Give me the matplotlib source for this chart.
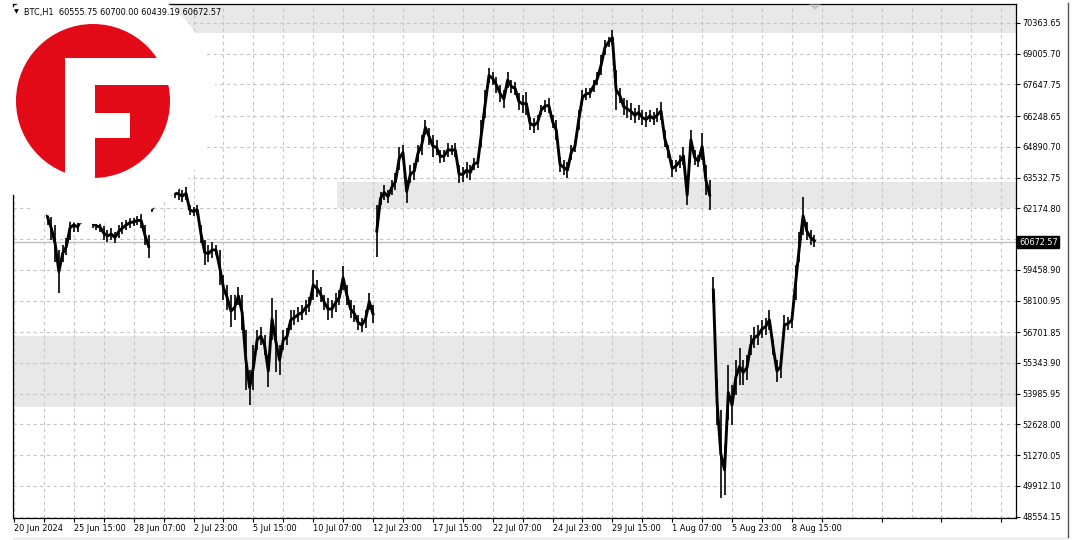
import numpy as np
import matplotlib.pyplot as plt
from matplotlib.patches import Circle, Rectangle, Polygon
from matplotlib.transforms import blended_transform_factory

# --- BTC H1 feed in groups of 4 hourly bars ---
# (the broker feed skips weekend hours, so x is a plain bar count)
BARS_PER_POINT = 4
LABEL_STEP = 64   # bars between time labels
GRID_STEP = 32    # bars between vertical grid lines

high = [64400, 64490, 64310, 64220, 64400, 64310, 64090, 63510, 63210, 62100,
        61790, 61440, 60330, 60550, 60860, 61880, 61750, 61570, 61880, 62010,
        61920, 61750, 61570, 61570, 61390, 61220, 61300, 61130, 61440, 61570,
        61660, 61790, 61750, 61840, 61970, 61440, 61000, 62320, 62760, 62980,
        63210, 63290, 63210, 63070, 63070, 62980, 63120, 62320, 62230, 62320,
        61440, 60770, 60550, 60690, 60550, 60330, 59230, 58790, 58340, 58340,
        58700, 58340, 56800, 55030, 56130, 56800, 56930, 56580, 55690, 58210,
        57680, 56130, 56800, 56890, 57680, 57680, 57810, 57900, 58120, 58260,
        59450, 59010, 58700, 58340, 58210, 58120, 58430, 58570, 59630, 58790,
        58120, 57900, 57460, 57330, 57680, 58430, 57900, 62320, 62900, 63210,
        62980, 63430, 63730, 64880, 64970, 63430, 64090, 64180, 64970, 65410,
        66080, 65720, 65410, 65190, 64750, 64750, 65060, 64970, 65060, 64090,
        64000, 64220, 64090, 64400, 64440, 66080, 67400, 68380, 68200, 67980,
        67620, 67400, 68200, 67850, 67760, 67270, 67180, 67320, 66210, 66170,
        66300, 66740, 66960, 67050, 66300, 66080, 64440, 64310, 64220, 64970,
        65190, 66520, 67400, 67490, 67490, 67850, 68200, 68950, 69610, 69750,
        70050, 68290, 67490, 67050, 66960, 66830, 66610, 66740, 66520, 66430,
        66520, 66430, 66610, 66870, 65640, 64970, 64310, 64310, 64530, 64880,
        63210, 65640, 64750, 64530, 65500, 64090, 63430, 59140, 54590, 53260,
        51720, 55250, 54370, 55470, 56000, 55470, 55690, 56580, 56930, 57020,
        57240, 57330, 57680, 56360, 55470, 55690, 57460, 57370, 57590, 59670,
        61130, 62680, 61570, 61220, 61000]

low = [64040, 64090, 63870, 63780, 63960, 63870, 63600, 62980, 62630, 61440,
       60770, 59800, 58430, 59800, 60110, 60770, 61130, 61130, 61480, 61570,
       61480, 61300, 61220, 61130, 60770, 60690, 60770, 60640, 60860, 61040,
       61220, 61300, 61390, 61440, 61300, 60550, 59980, 62010, 62320, 62540,
       62680, 62760, 62720, 62630, 62540, 62450, 62540, 61880, 61840, 61880,
       60640, 59670, 59800, 59980, 60110, 58790, 58120, 57680, 56930, 57240,
       57900, 56800, 54150, 53480, 54150, 55910, 56130, 55690, 54280, 56360,
       54940, 54810, 55910, 56130, 56800, 57020, 57150, 57240, 57460, 57590,
       58120, 58260, 58040, 57680, 57240, 57330, 57590, 57900, 58570, 57900,
       57330, 57150, 56800, 56710, 56890, 57680, 57110, 60020, 62320, 62540,
       62410, 62760, 62980, 63870, 64310, 62410, 63290, 63430, 64220, 64530,
       65410, 64970, 64440, 64530, 64180, 64220, 64440, 64530, 64440, 63290,
       63340, 63510, 63430, 63870, 63960, 64880, 66170, 67710, 67620, 67270,
       66870, 66610, 67490, 67270, 67180, 66520, 66390, 66300, 65640, 65500,
       65640, 66300, 66430, 66390, 65720, 65190, 63780, 63650, 63510, 64310,
       64660, 65640, 66740, 66960, 67050, 67320, 67620, 68070, 68950, 69300,
       69390, 66520, 66830, 66300, 66170, 66080, 65950, 66080, 65860, 65770,
       65990, 65860, 65990, 66080, 64880, 64400, 63560, 63780, 63960, 64090,
       62320, 64750, 64090, 64000, 64310, 62760, 62100, 57990, 52600, 49370,
       49510, 52820, 52600, 53930, 54370, 54370, 54590, 55690, 56000, 56130,
       56440, 56580, 56800, 55690, 54500, 54680, 56580, 56800, 56890, 58120,
       59800, 61000, 60770, 60550, 60470]

week_breaks = [36, 96, 186]   # last point before a visible weekend gap

last_bar = [60555.75, 60700.00, 60439.19, 60672.57]   # O H L C
symbol = 'BTC,H1'

price_ticks = [70363.65, 69005.70, 67647.75, 66248.65, 64890.70, 63532.75,
               62174.80, 60816.85, 59458.90, 58100.95, 56701.85, 55343.90,
               53985.95, 52628.00, 51270.05, 49912.10, 48554.15]
hidden_tick = 60816.85   # sits under the price tag

time_labels = ['20 Jun 2024', '25 Jun 15:00', '28 Jun 07:00', '2 Jul 23:00',
               '5 Jul 15:00', '10 Jul 07:00', '12 Jul 23:00', '17 Jul 15:00',
               '22 Jul 07:00', '24 Jul 23:00', '29 Jul 15:00', '1 Aug 07:00',
               '5 Aug 23:00', '8 Aug 15:00']

# supply / demand zones: (low price, high price, first bar)
zones = [(69920, 72000, 0), (62175, 63330, 345), (53410, 56530, 0)]

X_MIN, X_MAX = -1.07, 1071.7
Y_MIN, Y_MAX = 48490, 71203

GRID_C = '#c4c4c4'
ZONE_C = '#e8e8e8'
LOGO_RED = '#e20a17'

plt.rcParams['font.family'] = 'DejaVu Sans'
plt.rcParams['font.size'] = 5.9

fig = plt.figure(figsize=(10.8, 5.4), dpi=100)
ax = fig.add_axes([13 / 1080, 22 / 540, 1003 / 1080, 514 / 540])
ax.set_xlim(X_MIN, X_MAX)
ax.set_ylim(Y_MIN, Y_MAX)

# zones
for lo_p, hi_p, start in zones:
    ax.add_patch(Rectangle((start, lo_p), X_MAX - start, hi_p - lo_p,
                           facecolor=ZONE_C, edgecolor='none', zorder=0))

# grid
for b in np.arange(0, X_MAX, GRID_STEP):
    ax.axvline(b, color=GRID_C, lw=0.8, dashes=(3, 3), zorder=1)
for p in price_ticks:
    ax.axhline(p, color=GRID_C, lw=0.8, dashes=(3, 3), zorder=1)

# current price line
ax.axhline(last_bar[3], color='#bdbdbd', lw=1.0, zorder=1)

# price bars: hi-lo strokes plus a core line through their middles
x = np.arange(len(high)) * BARS_PER_POINT
hi = np.array(high, dtype=float)
lo = np.array(low, dtype=float)
mid = (hi + lo) / 2
starts = [0] + [b + 1 for b in week_breaks]
ends = [b + 1 for b in week_breaks] + [len(high)]
for s, e in zip(starts, ends):
    ax.plot(x[s:e], mid[s:e], color='black', lw=2.1, zorder=3)
ax.vlines(x, lo, hi, color='black', lw=1.2, zorder=3)

# axes / ticks
for side in ['left', 'right', 'top', 'bottom']:
    ax.spines[side].set_color('black')
    ax.spines[side].set_linewidth(0.9)
ax.yaxis.tick_right()
ax.set_yticks(price_ticks,
              labels=['' if p == hidden_tick else f'{p:.2f}' for p in price_ticks])
ax.tick_params(axis='y', length=3, width=0.8, pad=1.5, colors='black')
ax.set_xticks(np.arange(len(time_labels)) * LABEL_STEP, labels=time_labels, ha='left')
ax.set_xticks(np.arange(GRID_STEP, X_MAX, 2 * GRID_STEP), minor=True)
ax.tick_params(axis='x', which='both', length=3, width=0.8, pad=1.5)

# price tag on the right axis
trans = blended_transform_factory(ax.transAxes, ax.transData)
ax.text(1.003, last_bar[3], f'{last_bar[3]:.2f}', transform=trans, color='white',
        ha='left', va='center', fontsize=5.9, zorder=10, clip_on=False,
        bbox=dict(boxstyle='square,pad=0.2', fc='black', ec='black'))

# --- overlay in pixel coordinates: logo, header, window frame ---
ov = fig.add_axes([0, 0, 1, 1], zorder=5)
ov.set_xlim(0, 1080)
ov.set_ylim(540, 0)
ov.axis('off')

ov.add_patch(Circle((93, 101), 123, facecolor='white', edgecolor='none'))
ov.add_patch(Circle((93, 101), 77, facecolor=LOGO_RED, edgecolor='none'))
ov.add_patch(Rectangle((65, 58), 30, 130, facecolor='white', edgecolor='none'))
ov.add_patch(Rectangle((95, 58), 90, 27, facecolor='white', edgecolor='none'))
ov.add_patch(Rectangle((95, 113), 35, 25, facecolor='white', edgecolor='none'))

ov.text(14, 12, '\u25BC', fontsize=4.5, va='center', ha='left')
ov.text(24, 12, f'{symbol}  ' + ' '.join(f'{v:.2f}' for v in last_bar),
        fontsize=5.9, va='center', ha='left')

# chart shift marker
ov.add_patch(Polygon([(809, 4.5), (821, 4.5), (815, 10)], closed=True,
                     facecolor='#c8c8c8', edgecolor='none'))
# window frame
ov.plot([1068, 1068], [3, 537], color='#505050', lw=1)
ov.add_patch(Rectangle((13, 537), 1055, 3, facecolor='#efefef', edgecolor='none'))

fig.savefig('out.png', dpi=100)
